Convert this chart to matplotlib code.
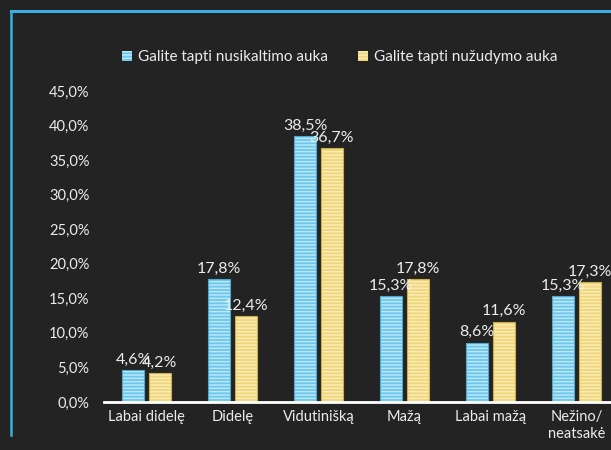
import matplotlib.pyplot as plt
import numpy as np
from matplotlib.lines import Line2D

categories = ["Labai didelę", "Didelę", "Vidutinišką", "Mažą", "Labai mažą", "Nežino/\nneatsakė"]
crime = [4.6, 17.8, 38.5, 15.3, 8.6, 15.3]
murder = [4.2, 12.4, 36.7, 17.8, 11.6, 17.3]
series_names = ["Galite tapti nusikaltimo auka", "Galite tapti nužudymo auka"]
yticks = [0, 5, 10, 15, 20, 25, 30, 35, 40, 45]

bg = "#232323"
txt = "#ececec"

plt.rcParams['font.family'] = ['Lato', 'DejaVu Sans']
plt.rcParams['hatch.linewidth'] = 1.1

fig = plt.figure(figsize=(6.11, 4.5), dpi=100, facecolor=bg)
ax = fig.add_axes([103.5 / 611, 48 / 450, 516 / 611, 311 / 450])
ax.set_facecolor(bg)

x = np.arange(len(categories))
w = 0.26
off = 0.154

b1 = ax.bar(x - off, crime, w, color="#6ec6ea", hatch="-----", edgecolor="#b9e8fa",
            linewidth=0, label=series_names[0])
b2 = ax.bar(x + off, murder, w, color="#efd67c", hatch="-----", edgecolor="#fbecb4",
            linewidth=0, label=series_names[1])
# outlines
ax.bar(x - off, crime, w, facecolor="none", edgecolor="#4fa9cf", linewidth=0.8)
ax.bar(x + off, murder, w, facecolor="none", edgecolor="#c9ad4e", linewidth=0.8)

for xs, vals in [(x - off, crime), (x + off, murder)]:
    for xi, v in zip(xs, vals):
        ax.annotate(f"{v:.1f}%".replace(".", ","), (xi, v), xytext=(0, 2.5),
                    textcoords="offset points", ha="center", va="bottom",
                    color=txt, fontsize=11.5)

ax.set_xlim(-0.5, len(categories) - 0.5)
ax.set_ylim(0, 45)
ax.set_yticks(yticks)
ax.set_yticklabels([f"{t:.1f}%".replace(".", ",") for t in yticks])
ax.set_xticks(x)
ax.set_xticklabels(categories)
ax.tick_params(axis="y", length=0, pad=10, colors=txt, labelsize=10.5)
ax.tick_params(axis="x", length=0, pad=6, colors=txt, labelsize=10.5)
for s in ["top", "right", "left"]:
    ax.spines[s].set_visible(False)
ax.spines["bottom"].set_color("white")
ax.spines["bottom"].set_linewidth(2)

leg = fig.legend(handles=[b1, b2], loc="center", bbox_to_anchor=(0.556, 0.873), ncol=2,
                 frameon=False, fontsize=11, labelcolor=txt, handlelength=0.65,
                 handleheight=0.65, handletextpad=0.4, columnspacing=2.0)

# blue chalk frame
fig.add_artist(Line2D([11 / 611, 1], [1 - 11 / 450, 1 - 11 / 450], color="#3aaee0", lw=2.2))
fig.add_artist(Line2D([11 / 611, 11 / 611], [1 - 11 / 450, 1 - 435 / 450], color="#3aaee0", lw=1.8))

fig.savefig("out.png", dpi=100, facecolor=bg)
